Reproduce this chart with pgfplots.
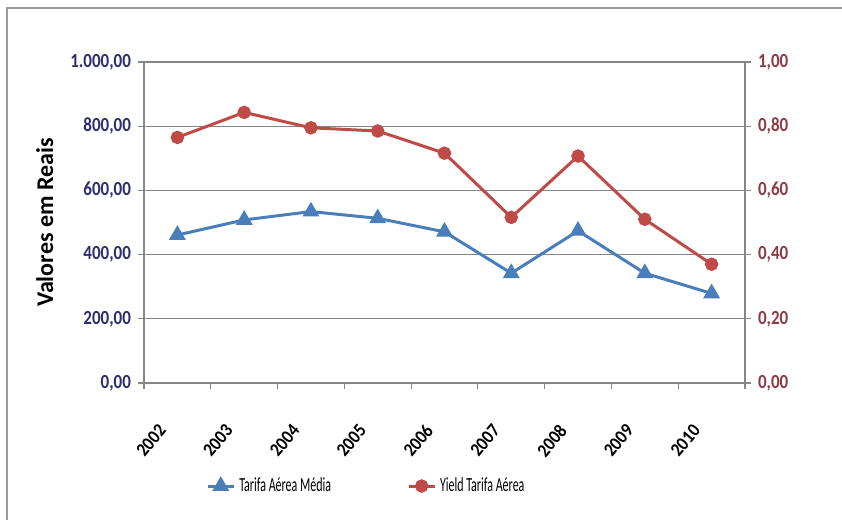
\documentclass[border=0pt]{standalone}
\usepackage{pgfplots}
\pgfplotsset{compat=1.18}
\usepackage{fontspec}
\setmainfont{Carlito}
\newfontfamily\legfont[FakeStretch=0.6]{Carlito}
\newfontfamily\tickfont[FakeStretch=0.85]{Carlito}
\newfontfamily\yearfont[FakeStretch=0.9]{Carlito}

\definecolor{serieblue}{HTML}{4A7EBB}
\definecolor{seriered}{HTML}{BE4B48}
\definecolor{leftlab}{HTML}{2E2E6E}
\definecolor{rightlab}{HTML}{8E3A44}
\definecolor{axgray}{HTML}{868686}
\definecolor{framegray}{HTML}{9A9A9A}

% Tarifa aerea media (R$) and yield (R$ por km)
\pgfplotstableread{
x ano  tarifa yield
1 2002 461    0.765
2 2003 508    0.843
3 2004 534    0.795
4 2005 513    0.785
5 2006 471    0.716
6 2007 342    0.516
7 2008 474    0.707
8 2009 342    0.510
9 2010 279    0.370
}\dados

\pgfplotsset{
  base/.style={
    scale only axis,
    width=300.5pt, height=160.5pt,
    at={(72pt,68.5pt)}, anchor=south west,
    xmin=0.5, xmax=9.5,
    ymin=0,
    axis line style={axgray, line width=0.6pt},
    tick align=outside,
    major tick length=3pt,
    minor tick length=3pt,
    every tick/.style={axgray, line width=0.6pt},
    /pgf/number format/.cd, use comma, 1000 sep={.}, fixed, fixed zerofill, precision=2, assume math mode=true,
    /pgfplots/.cd,
    clip=false,
  },
  legimg/.style={legend image code/.code={
      \draw[#1, mark=none] (0pt,0pt) -- (13pt,0pt);
      \draw[#1] plot coordinates {(6.5pt,0pt)};
  }},
}

\begin{document}
\begin{tikzpicture}
\useasboundingbox (0,0) rectangle (421pt,260pt);
% chart frame
\draw[framegray, line width=0.7pt] (3.5pt,0pt) -- (3.5pt,256pt) -- (421pt,256pt);

% left axis: Tarifa Aerea Media
\begin{axis}[base,
  ymax=1000,
  ytick={0,200,...,1000},
  ymajorgrids,
  grid style={axgray, line width=0.6pt},
  axis y line*=left,
  axis x line*=bottom,
  xtick={1,...,9},
  xticklabels={2002,2003,2004,2005,2006,2007,2008,2009,2010},
  minor xtick={0.5,1.5,...,9.5},
  major x tick style={draw=none},
  xticklabel style={font=\yearfont\bfseries\fontsize{9.5}{10}\selectfont, rotate=50, anchor=east, black, xshift=-16pt, yshift=-6.5pt},
  yticklabel style={font=\tickfont\bfseries\fontsize{10}{11}\selectfont, leftlab},
  ylabel={Valores em Reais},
  ylabel style={font=\bfseries\fontsize{12}{13}\selectfont, black, anchor=center, at={(axis description cs:-0.165,0.5)}},
  legend style={draw=none, fill=none, inner sep=0pt, legend columns=2,
    at={(0.103,-0.321)}, anchor=west,
    font=\legfont\fontsize{10}{11}\selectfont,
    /tikz/every even column/.append style={column sep=36pt}},
  legend cell align=left,
]
\addplot[serieblue, line width=1.5pt, mark=triangle*, mark size=3.4pt, mark options={solid}, legimg={serieblue, line width=1.5pt, mark=triangle*, mark size=3.4pt}]
  table[x=x, y=tarifa] {\dados};
\addlegendentry{Tarifa Aérea Média}
\addlegendimage{legimg={seriered, line width=1.5pt, mark=*, mark size=2.6pt}}
\addlegendentry{Yield Tarifa Aérea}
\end{axis}

% right axis: Yield Tarifa Aerea
\begin{axis}[base,
  ymax=1,
  ytick={0,0.2,...,1},
  axis y line*=right,
  axis x line=none,
  yticklabel style={font=\tickfont\bfseries\fontsize{10}{11}\selectfont, rightlab},
]
\addplot[seriered, line width=1.5pt, mark=*, mark size=2.6pt]
  table[x=x, y=yield] {\dados};
\end{axis}
\end{tikzpicture}
\end{document}
